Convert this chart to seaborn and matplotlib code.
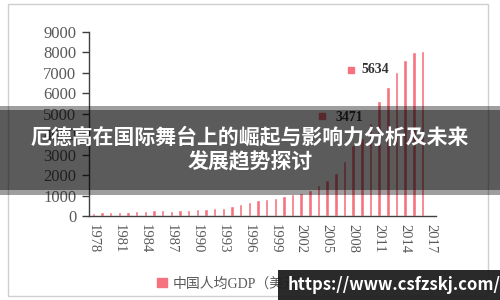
import numpy as np
import pandas as pd
import matplotlib
matplotlib.use("Agg")
import matplotlib.pyplot as plt
import matplotlib.transforms as mtransforms
from matplotlib.patches import Rectangle, Patch
import seaborn as sns

# data: China GDP per capita (USD), 1978-2017 (2017 left empty in the chart)
years = [str(y) for y in range(1978, 2018)]
gdp = [156, 184, 195, 197, 203, 225, 251, 294, 282, 252,
       284, 311, 318, 333, 367, 377, 473, 610, 709, 782,
       829, 873, 959, 1053, 1149, 1289, 1509, 1753, 2099, 2694,
       3471, 3832, 4550, 5634, 6317, 7051, 7651, 8033, 8079, np.nan]
labelled_years = ["2008", "2011"]
y_ticks = [0, 1000, 2000, 3000, 4000, 5000, 6000, 7000, 8000, 9000]
legend_label = "中国人均GDP（美元）"
title_lines = ["厄德高在国际舞台上的崛起与影响力分析及未来", "发展趋势探讨"]
watermark = "https://www.csfzskj.com/"

BAR = "#f6727e"
GRAY = "#595959"
SPINE = "#404040"

sns.set_theme(style="white")
plt.rcParams['font.family'] = ['Liberation Serif', 'Noto Sans CJK SC']

df = pd.DataFrame({"year": years, "gdp": gdp})

fig = plt.figure(figsize=(5, 3), dpi=100)
ax = fig.add_axes([89 / 500, 1 - 216 / 300, (435.5 - 89) / 500, (216 - 32) / 300])

sns.barplot(data=df, x="year", y="gdp", order=years, color=BAR, saturation=1,
            width=0.4, errorbar=None, ax=ax)

ax.set_xlim(-0.5, len(years) - 0.5)
ax.set_ylim(0, 9000)
ax.set_yticks(y_ticks)
ax.set_yticklabels([str(v) for v in y_ticks], fontsize=12, color=GRAY)
ax.set_xlabel("")
ax.set_ylabel("")

# labels every third year, tick marks between categories
ax.set_xticks(range(0, len(years), 3))
ax.set_xticklabels(years[::3], rotation=-90, fontsize=10.5, color=GRAY)
ax.set_xticks(np.arange(-0.5, len(years), 3), minor=True)
ax.tick_params(axis="x", which="major", length=0, pad=6)
ax.tick_params(axis="x", which="minor", length=5, width=1, color=SPINE, direction="out")
ax.tick_params(axis="y", length=5, width=1, color=SPINE, direction="out", left=True, pad=4)

for side in ["top", "right"]:
    ax.spines[side].set_visible(False)
for side in ["left", "bottom"]:
    ax.spines[side].set_color(SPINE)
    ax.spines[side].set_linewidth(1)

# data labels with legend key
offsets = {"2008": ((-18, 28), (-31, 29)), "2011": ((-18, 31), (-28, 31))}
for yr in labelled_years:
    i = years.index(yr)
    val = gdp[i]
    (tx, ty), (mx, my) = offsets[yr]
    ax.annotate(f"{val:.0f}", xy=(i, val), xytext=(tx, ty), textcoords="offset pixels",
                ha="left", va="center", fontsize=10, fontweight="bold", color="#333333",
                annotation_clip=False)
    tr = mtransforms.offset_copy(ax.transData, fig=fig, x=mx, y=my, units="dots")
    ax.plot([i], [val], marker="s", markersize=5, color=BAR, transform=tr, clip_on=False)

# legend at the bottom
fig.legend(handles=[Patch(color=BAR)], labels=[legend_label], loc="center left",
           bbox_to_anchor=(157 / 500, 1 - 283.5 / 300), frameon=False,
           handlelength=0.7, handleheight=0.7, handletextpad=0.4,
           borderpad=0, borderaxespad=0,
           prop={"family": ['Liberation Serif', 'Noto Sans CJK SC'], "size": 10})
for t in fig.legends[0].get_texts():
    t.set_color(GRAY)

# outer chart border
fig.add_artist(Rectangle((8 / 500, 4 / 300), 480 / 500, 292 / 300, transform=fig.transFigure,
                         facecolor="none", edgecolor="#cfcfcf", lw=1, zorder=1))

# dark banner with title
fig.add_artist(Rectangle((0, 1 - 195 / 300), 1, 89 / 300, transform=fig.transFigure,
                         facecolor="black", alpha=0.38, lw=0, zorder=10))
fig.add_artist(Rectangle((0, 1 - 190 / 300), 1, 80 / 300, transform=fig.transFigure,
                         facecolor="black", alpha=0.42, lw=0, zorder=10))
for k, line in enumerate(title_lines):
    fig.text(0.5, 1 - (137 + 25 * k) / 300, line, ha="center", va="center",
             fontsize=15, fontweight="bold", color="white",
             family=['Noto Sans CJK SC', 'DejaVu Sans'], zorder=11)

# watermark
fig.add_artist(Rectangle((278 / 500, 0), 222 / 500, 30 / 300, transform=fig.transFigure,
                         facecolor="#1e1e1e", alpha=0.95, lw=0, zorder=12))
fig.text(288 / 500, 1 - 285 / 300, watermark, ha="left", va="center",
         fontsize=12, fontweight="bold", color="white",
         family=['Noto Sans CJK SC', 'DejaVu Sans'], zorder=13)

fig.savefig("out.png", dpi=100)
